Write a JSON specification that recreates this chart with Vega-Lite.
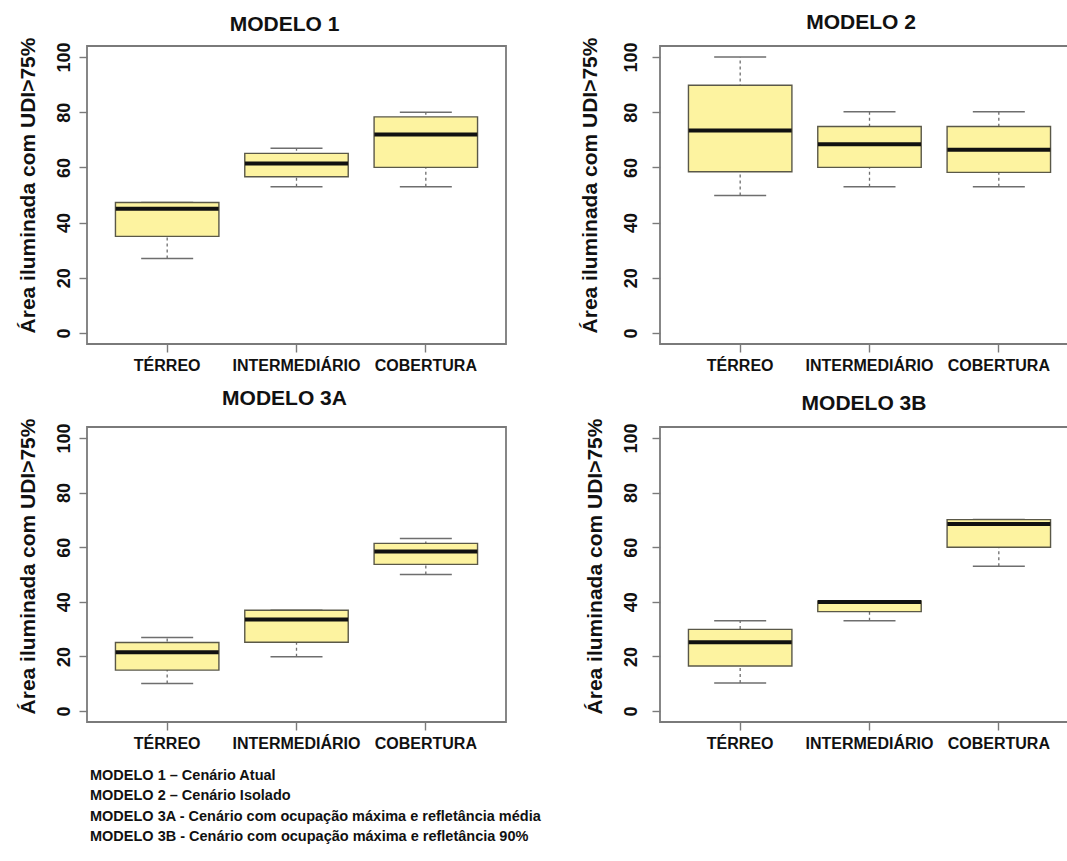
{
  "$schema": "https://vega.github.io/schema/vega-lite/v6.json",
  "background": "white",
  "padding": {"left": 16, "top": 10, "right": 0, "bottom": 5},
  "bounds": "flush",
  "columns": 2,
  "spacing": {"row": 83, "column": 154},
  "title": {
    "text": ["MODELO 1 – Cenário Atual", "MODELO 2 – Cenário Isolado", "MODELO 3A - Cenário com ocupação máxima e refletância média", "MODELO 3B - Cenário com ocupação máxima e refletância 90%"],
    "orient": "bottom",
    "anchor": "start",
    "frame": "group",
    "dx": 3,
    "offset": 17,
    "fontSize": 14.5,
    "fontWeight": "bold",
    "lineHeight": 20.5,
    "color": "#111111",
    "font": "Liberation Sans"
  },
  "datasets": {
    "boxes": [
      {"modelo": "M1", "nivel": "TÉRREO", "min": 27, "q1": 35, "median": 45, "q3": 47.3, "max": 47.3},
      {"modelo": "M1", "nivel": "INTERMEDIÁRIO", "min": 53, "q1": 56.6, "median": 61.4, "q3": 65.1, "max": 66.9},
      {"modelo": "M1", "nivel": "COBERTURA", "min": 53, "q1": 60, "median": 71.9, "q3": 78.3, "max": 80},
      {"modelo": "M2", "nivel": "TÉRREO", "min": 49.8, "q1": 58.4, "median": 73.4, "q3": 89.8, "max": 100},
      {"modelo": "M2", "nivel": "INTERMEDIÁRIO", "min": 53, "q1": 60, "median": 68.4, "q3": 74.8, "max": 80.2},
      {"modelo": "M2", "nivel": "COBERTURA", "min": 53, "q1": 58.2, "median": 66.4, "q3": 74.8, "max": 80.2},
      {"modelo": "M3A", "nivel": "TÉRREO", "min": 10.1, "q1": 15, "median": 21.5, "q3": 25.1, "max": 26.9},
      {"modelo": "M3A", "nivel": "INTERMEDIÁRIO", "min": 19.9, "q1": 25.2, "median": 33.5, "q3": 36.9, "max": 36.9},
      {"modelo": "M3A", "nivel": "COBERTURA", "min": 50, "q1": 53.7, "median": 58.4, "q3": 61.4, "max": 63.2},
      {"modelo": "M3B", "nivel": "TÉRREO", "min": 10.3, "q1": 16.5, "median": 25.2, "q3": 29.9, "max": 33.1},
      {"modelo": "M3B", "nivel": "INTERMEDIÁRIO", "min": 33.1, "q1": 36.4, "median": 39.9, "q3": 40.3, "max": 40.3},
      {"modelo": "M3B", "nivel": "COBERTURA", "min": 53, "q1": 60, "median": 68.5, "q3": 70.1, "max": 70.1}
    ]
  },
  "concat": [
    {
      "width": 419, "height": 298,
      "title": {"text": "MODELO 1", "dx": -12, "offset": 2.5},
      "data": {"name": "boxes"},
      "transform": [{"filter": "datum.modelo === 'M1'"}],
      "encoding": {"x": {"field": "nivel", "type": "nominal", "sort": ["TÉRREO", "INTERMEDIÁRIO", "COBERTURA"], "scale": {"paddingInner": 0, "paddingOuter": 0.12}, "title": null}},
      "layer": [
        {"mark": {"type": "rule", "strokeDash": [3, 3], "color": "#6e6e6e", "strokeWidth": 1.3},
         "encoding": {"y": {"field": "min", "type": "quantitative", "title": "Área iluminada com UDI>75%", "scale": {"domain": [-4, 104], "nice": false, "zero": false}, "axis": {"values": [0, 20, 40, 60, 80, 100], "labelPadding": 10, "titleX": -53, "titleY": 139}}, "y2": {"field": "max"}}},
        {"mark": {"type": "tick", "size": 52, "thickness": 1.5, "color": "#6e6e6e", "opacity": 1}, "encoding": {"y": {"field": "min", "type": "quantitative", "title": "Área iluminada com UDI>75%"}}},
        {"mark": {"type": "tick", "size": 52, "thickness": 1.5, "color": "#6e6e6e", "opacity": 1}, "encoding": {"y": {"field": "max", "type": "quantitative", "title": "Área iluminada com UDI>75%"}}},
        {"mark": {"type": "bar", "width": {"band": 0.8}, "fill": "#FDF3A0", "stroke": "#5a5848", "strokeWidth": 1.4, "opacity": 1}, "encoding": {"y": {"field": "q1", "type": "quantitative", "title": "Área iluminada com UDI>75%"}, "y2": {"field": "q3"}}},
        {"mark": {"type": "tick", "size": 103, "thickness": 4, "color": "#111111", "opacity": 1}, "encoding": {"y": {"field": "median", "type": "quantitative", "title": "Área iluminada com UDI>75%"}}}
      ]
    },
    {
      "width": 408, "height": 298,
      "title": {"text": "MODELO 2", "dx": -3, "offset": 4.5},
      "data": {"name": "boxes"},
      "transform": [{"filter": "datum.modelo === 'M2'"}],
      "encoding": {"x": {"field": "nivel", "type": "nominal", "sort": ["TÉRREO", "INTERMEDIÁRIO", "COBERTURA"], "scale": {"paddingInner": 0, "paddingOuter": 0.12, "range": [0, 419]}, "title": null}},
      "layer": [
        {"mark": {"type": "rule", "strokeDash": [3, 3], "color": "#6e6e6e", "strokeWidth": 1.3},
         "encoding": {"y": {"field": "min", "type": "quantitative", "title": "Área iluminada com UDI>75%", "scale": {"domain": [-4, 104], "nice": false, "zero": false}, "axis": {"values": [0, 20, 40, 60, 80, 100], "labelPadding": 16, "titleX": -64, "titleY": 139}}, "y2": {"field": "max"}}},
        {"mark": {"type": "tick", "size": 52, "thickness": 1.5, "color": "#6e6e6e", "opacity": 1}, "encoding": {"y": {"field": "min", "type": "quantitative", "title": "Área iluminada com UDI>75%"}}},
        {"mark": {"type": "tick", "size": 52, "thickness": 1.5, "color": "#6e6e6e", "opacity": 1}, "encoding": {"y": {"field": "max", "type": "quantitative", "title": "Área iluminada com UDI>75%"}}},
        {"mark": {"type": "bar", "width": {"band": 0.8}, "fill": "#FDF3A0", "stroke": "#5a5848", "strokeWidth": 1.4, "opacity": 1}, "encoding": {"y": {"field": "q1", "type": "quantitative", "title": "Área iluminada com UDI>75%"}, "y2": {"field": "q3"}}},
        {"mark": {"type": "tick", "size": 103, "thickness": 4, "color": "#111111", "opacity": 1}, "encoding": {"y": {"field": "median", "type": "quantitative", "title": "Área iluminada com UDI>75%"}}}
      ]
    },
    {
      "width": 419, "height": 295,
      "title": {"text": "MODELO 3A", "dx": -12, "offset": 9.5},
      "data": {"name": "boxes"},
      "transform": [{"filter": "datum.modelo === 'M3A'"}],
      "encoding": {"x": {"field": "nivel", "type": "nominal", "sort": ["TÉRREO", "INTERMEDIÁRIO", "COBERTURA"], "scale": {"paddingInner": 0, "paddingOuter": 0.12}, "title": null}},
      "layer": [
        {"mark": {"type": "rule", "strokeDash": [3, 3], "color": "#6e6e6e", "strokeWidth": 1.3},
         "encoding": {"y": {"field": "min", "type": "quantitative", "title": "Área iluminada com UDI>75%", "scale": {"domain": [-4, 104], "nice": false, "zero": false}, "axis": {"values": [0, 20, 40, 60, 80, 100], "labelPadding": 10, "titleX": -53, "titleY": 139}}, "y2": {"field": "max"}}},
        {"mark": {"type": "tick", "size": 52, "thickness": 1.5, "color": "#6e6e6e", "opacity": 1}, "encoding": {"y": {"field": "min", "type": "quantitative", "title": "Área iluminada com UDI>75%"}}},
        {"mark": {"type": "tick", "size": 52, "thickness": 1.5, "color": "#6e6e6e", "opacity": 1}, "encoding": {"y": {"field": "max", "type": "quantitative", "title": "Área iluminada com UDI>75%"}}},
        {"mark": {"type": "bar", "width": {"band": 0.8}, "fill": "#FDF3A0", "stroke": "#5a5848", "strokeWidth": 1.4, "opacity": 1}, "encoding": {"y": {"field": "q1", "type": "quantitative", "title": "Área iluminada com UDI>75%"}, "y2": {"field": "q3"}}},
        {"mark": {"type": "tick", "size": 103, "thickness": 4, "color": "#111111", "opacity": 1}, "encoding": {"y": {"field": "median", "type": "quantitative", "title": "Área iluminada com UDI>75%"}}}
      ]
    },
    {
      "width": 408, "height": 295,
      "title": {"text": "MODELO 3B", "dx": 0, "offset": 4.5},
      "data": {"name": "boxes"},
      "transform": [{"filter": "datum.modelo === 'M3B'"}],
      "encoding": {"x": {"field": "nivel", "type": "nominal", "sort": ["TÉRREO", "INTERMEDIÁRIO", "COBERTURA"], "scale": {"paddingInner": 0, "paddingOuter": 0.12, "range": [0, 419]}, "title": null}},
      "layer": [
        {"mark": {"type": "rule", "strokeDash": [3, 3], "color": "#6e6e6e", "strokeWidth": 1.3},
         "encoding": {"y": {"field": "min", "type": "quantitative", "title": "Área iluminada com UDI>75%", "scale": {"domain": [-4, 104], "nice": false, "zero": false}, "axis": {"values": [0, 20, 40, 60, 80, 100], "labelPadding": 16, "titleX": -59, "titleY": 139}}, "y2": {"field": "max"}}},
        {"mark": {"type": "tick", "size": 52, "thickness": 1.5, "color": "#6e6e6e", "opacity": 1}, "encoding": {"y": {"field": "min", "type": "quantitative", "title": "Área iluminada com UDI>75%"}}},
        {"mark": {"type": "tick", "size": 52, "thickness": 1.5, "color": "#6e6e6e", "opacity": 1}, "encoding": {"y": {"field": "max", "type": "quantitative", "title": "Área iluminada com UDI>75%"}}},
        {"mark": {"type": "bar", "width": {"band": 0.8}, "fill": "#FDF3A0", "stroke": "#5a5848", "strokeWidth": 1.4, "opacity": 1}, "encoding": {"y": {"field": "q1", "type": "quantitative", "title": "Área iluminada com UDI>75%"}, "y2": {"field": "q3"}}},
        {"mark": {"type": "tick", "size": 103, "thickness": 4, "color": "#111111", "opacity": 1}, "encoding": {"y": {"field": "median", "type": "quantitative", "title": "Área iluminada com UDI>75%"}}}
      ]
    }
  ],
  "config": {
    "font": "Liberation Sans",
    "view": {"stroke": "#7a7a7a", "strokeWidth": 1.8},
    "title": {"fontSize": 21, "fontWeight": "bold", "color": "#111111", "baseline": "alphabetic", "frame": "group", "anchor": "middle"},
    "axis": {"domain": false, "grid": false, "tickColor": "#7a7a7a", "tickWidth": 1.4, "tickSize": 8, "labelFont": "Liberation Sans", "labelFontWeight": "bold", "labelColor": "#111111", "titleFont": "Liberation Sans", "titleColor": "#111111"},
    "axisY": {"labelAngle": -90, "labelAlign": "center", "labelBaseline": "alphabetic", "labelFontSize": 18, "labelFontWeight": "bold", "titleFontSize": 21, "titleFontWeight": "bold", "titleAngle": -90, "titleAlign": "center", "titleBaseline": "alphabetic"},
    "axisX": {"labelAngle": 0, "labelFontSize": 16, "labelFontWeight": "bold", "labelBaseline": "alphabetic", "labelPadding": 18}
  }
}
